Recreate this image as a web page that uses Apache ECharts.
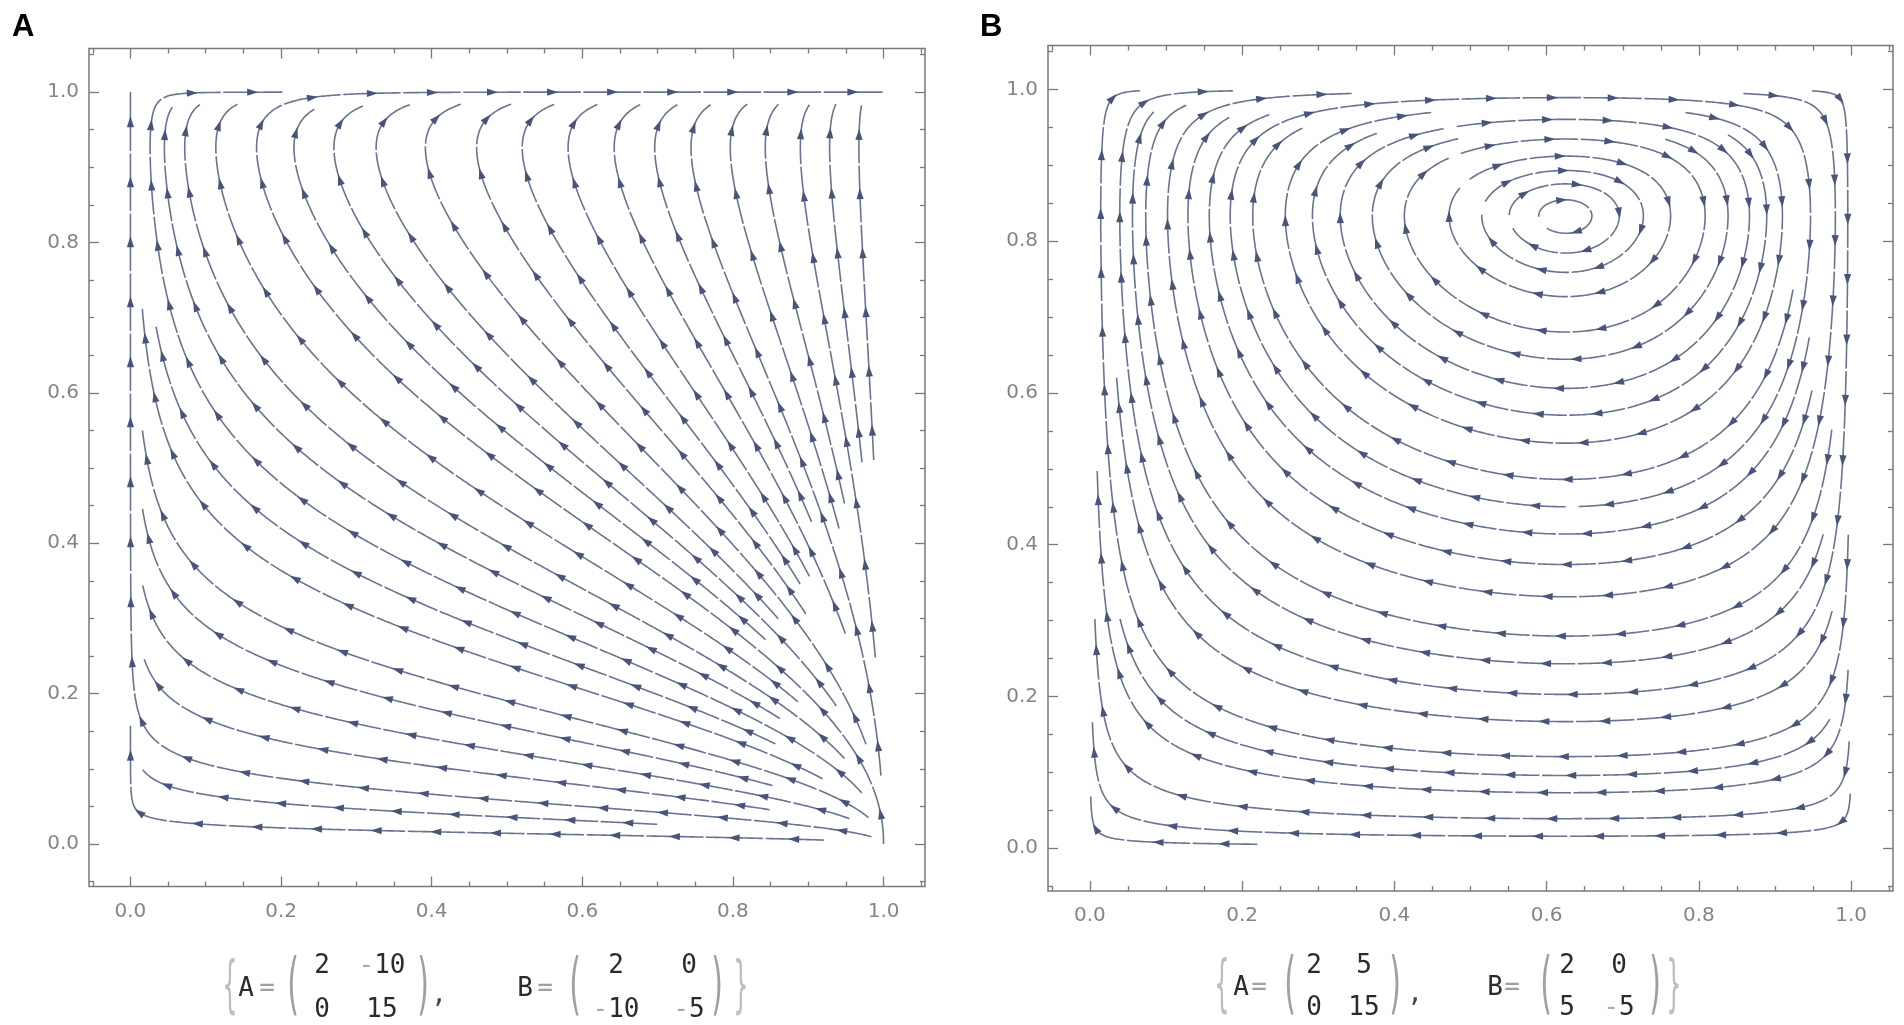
<!DOCTYPE html>
<html><head><meta charset="utf-8">
<script src="https://cdn.jsdelivr.net/npm/echarts@6/dist/echarts.min.js"></script>
<style>html,body{margin:0;padding:0;background:#fff;}#c{width:1904px;height:1025px;}</style>
</head><body><div id="c"></div>
<script>
// ---------------- data ----------------
const panelNames = ['A', 'B'];
const payoffA1 = [[2, -10], [0, 15]];
const payoffB1 = [[2, 0], [-10, -5]];
const payoffA2 = [[2, 5], [0, 15]];
const payoffB2 = [[2, 0], [5, -5]];
const majorTickValues = [0, 0.2, 0.4, 0.6, 0.8, 1.0];
const majorTickLabels = ['0.0', '0.2', '0.4', '0.6', '0.8', '1.0'];
const minorTickValues = [-0.05, 0.05, 0.1, 0.15, 0.25, 0.3, 0.35, 0.45, 0.5, 0.55, 0.65, 0.7, 0.75, 0.85, 0.9, 0.95, 1.05];
const xRange = [-0.055, 1.055];
const yRange = [-0.0565, 1.058];
const seedA = [0.5, 0.5];
const seedB = [0.625, 0.45];

// ---------------- vector field (replicator dynamics of the bimatrix game) -------------
function replicatorField(A, B) {
  return function (x, y) {
    const p1 = A[0][0] * y + A[0][1] * (1 - y);
    const p2 = A[1][0] * y + A[1][1] * (1 - y);
    const q1 = B[0][0] * x + B[0][1] * (1 - x);
    const q2 = B[1][0] * x + B[1][1] * (1 - x);
    return [x * (1 - x) * (p1 - p2), y * (1 - y) * (q1 - q2)];
  };
}

// evenly spaced streamlines (Jobard-Lefer)
function evenStreamlines(field, seed, dsep) {
  const dtest = dsep * 0.45, h = 0.0025, minLen = 0.02, selfGap = dsep * 4;
  const seedMinX = 0.008, seedMaxX = 0.992, seedMinY = 0.011, seedMaxY = 0.99;
  const cs = dsep, N = Math.ceil(1 / cs) + 2;
  const cells = []; for (let i = 0; i < N * N; i++) cells.push([]);
  const discarded = new Set();
  function ci(v) { return Math.max(0, Math.min(N - 1, Math.floor(v / cs))); }
  function addPt(x, y, id, s) { cells[ci(x) * N + ci(y)].push([x, y, id, s]); }
  function tooClose(x, y, d, id, s) {
    const i0 = ci(x), j0 = ci(y), r = Math.ceil(d / cs), d2 = d * d;
    for (let i = i0 - r; i <= i0 + r; i++) {
      if (i < 0 || i >= N) continue;
      for (let j = j0 - r; j <= j0 + r; j++) {
        if (j < 0 || j >= N) continue;
        const arr = cells[i * N + j];
        for (let k = 0; k < arr.length; k++) {
          const p = arr[k];
          if (discarded.has(p[2])) continue;
          const dx = p[0] - x, dy = p[1] - y;
          if (dx * dx + dy * dy < d2) {
            if (p[2] !== id) return true;
            if (Math.abs(p[3] - s) > selfGap) return true;
          }
        }
      }
    }
    return false;
  }
  function dirAt(x, y) {
    const v = field(x, y); const m = Math.hypot(v[0], v[1]);
    if (!(m > 1e-7)) return null; return [v[0] / m, v[1] / m];
  }
  function step(x, y, sg) {
    const k1 = dirAt(x, y); if (!k1) return null;
    const k2 = dirAt(x + sg * h / 2 * k1[0], y + sg * h / 2 * k1[1]); if (!k2) return null;
    const k3 = dirAt(x + sg * h / 2 * k2[0], y + sg * h / 2 * k2[1]); if (!k3) return null;
    const k4 = dirAt(x + sg * h * k3[0], y + sg * h * k3[1]); if (!k4) return null;
    return [x + sg * h * (k1[0] + 2 * k2[0] + 2 * k3[0] + k4[0]) / 6,
            y + sg * h * (k1[1] + 2 * k2[1] + 2 * k3[1] + k4[1]) / 6];
  }
  function trace(x0, y0, id) {
    const fwd = [], bwd = [];
    for (const sg of [1, -1]) {
      let x = x0, y = y0, s = 0, prev = null;
      const arr = sg > 0 ? fwd : bwd;
      for (let k = 0; k < 5000; k++) {
        const n = step(x, y, sg); if (!n) break;
        if (n[0] < 0 || n[0] > 1 || n[1] < 0 || n[1] > 1) break;
        const dx = n[0] - x, dy = n[1] - y;
        if (prev && dx * prev[0] + dy * prev[1] < 0) break;
        s += h * sg;
        if (tooClose(n[0], n[1], dtest, id, s)) break;
        x = n[0]; y = n[1]; prev = [dx, dy];
        arr.push([x, y]); addPt(x, y, id, s);
      }
    }
    return bwd.reverse().concat([[x0, y0]], fwd);
  }
  const lines = []; let nextId = 0;
  function tryLine(x, y) {
    if (x < seedMinX || x > seedMaxX || y < seedMinY || y > seedMaxY) return null;
    if (tooClose(x, y, dsep * 0.96, -1, 0)) return null;
    if (!dirAt(x, y)) return null;
    const id = nextId++;
    addPt(x, y, id, 0);
    const pts = trace(x, y, id);
    if ((pts.length - 1) * h < minLen) { discarded.add(id); return null; }
    lines.push(pts); return pts;
  }
  const queue = [];
  function processQueue() {
    while (queue.length) {
      const L = queue.shift();
      for (let k = 0; k < L.length; k += 3) {
        const p = L[k], q = L[Math.min(k + 1, L.length - 1)], r = L[Math.max(k - 1, 0)];
        let tx = q[0] - r[0], ty = q[1] - r[1]; const m = Math.hypot(tx, ty) || 1; tx /= m; ty /= m;
        for (const sg of [1, -1]) {
          const nl = tryLine(p[0] - sg * ty * dsep, p[1] + sg * tx * dsep);
          if (nl) queue.push(nl);
        }
      }
    }
  }
  const first = tryLine(seed[0], seed[1]); if (first) queue.push(first);
  processQueue();
  for (let gx = seedMinX; gx <= seedMaxX; gx += dsep / 3) {
    for (let gy = seedMinY; gy <= seedMaxY; gy += dsep / 3) {
      const nl = tryLine(gx, gy);
      if (nl) { queue.push(nl); processQueue(); }
    }
  }
  return lines;
}

const streamA = evenStreamlines(replicatorField(payoffA1, payoffB1), seedA, 0.035);
const streamB = evenStreamlines(replicatorField(payoffA2, payoffB2), seedB, 0.036);

// ---------------- drawing ----------------
const lineColor = '#6a7490';
const arrowColor = '#4a5479';
const segLen = 60, gap = 2.5;

function makeRender(lines) {
  return function (params, api) {
    const line = lines[api.value(2)];
    const px = line.map(p => api.coord(p));
    const cum = [0];
    for (let i = 1; i < px.length; i++) cum.push(cum[i - 1] + Math.hypot(px[i][0] - px[i - 1][0], px[i][1] - px[i - 1][1]));
    const total = cum[cum.length - 1];
    if (total < 3) return null;
    function at(s) {
      let lo = 0, hi = cum.length - 1;
      while (hi - lo > 1) { const mid = (lo + hi) >> 1; if (cum[mid] <= s) lo = mid; else hi = mid; }
      const t = cum[hi] > cum[lo] ? (s - cum[lo]) / (cum[hi] - cum[lo]) : 0;
      return { i: lo, p: [px[lo][0] + t * (px[hi][0] - px[lo][0]), px[lo][1] + t * (px[hi][1] - px[lo][1])] };
    }
    const children = [];
    const nSeg = Math.max(1, Math.round(total / segLen)); const sl = total / nSeg;
    for (let s = 0; s < nSeg; s++) {
      const a = s * sl + (s > 0 ? gap / 2 : 0), b = (s + 1) * sl - (s < nSeg - 1 ? gap / 2 : 0);
      const A = at(a), B = at(b);
      const pts = [A.p];
      for (let i = A.i + 1; i <= B.i; i++) pts.push(px[i]);
      pts.push(B.p);
      children.push({ type: 'polyline', silent: true, shape: { points: pts }, style: { stroke: lineColor, lineWidth: 1.6, fill: null } });
      if (sl > 16) {
        const m = (s + 0.5) * sl;
        const P = at(m).p, Q = at(Math.min(total, m + 3)).p, R = at(Math.max(0, m - 3)).p;
        let dx = Q[0] - R[0], dy = Q[1] - R[1]; const len = Math.hypot(dx, dy) || 1; dx /= len; dy /= len;
        const tip = [P[0] + dx * 6, P[1] + dy * 6];
        const bc = [P[0] - dx * 5, P[1] - dy * 5];
        children.push({ type: 'polygon', silent: true, shape: { points: [tip, [bc[0] - dy * 3.6, bc[1] + dx * 3.6], [bc[0] + dy * 3.6, bc[1] - dx * 3.6]] }, style: { fill: arrowColor } });
      }
    }
    return { type: 'group', children };
  };
}

function tickLabel(v) {
  const i = majorTickValues.findIndex(t => Math.abs(t - v) < 1e-9);
  return i >= 0 ? majorTickLabels[i] : '';
}

function axisSet(gridIndex, dim, range) {
  const base = { type: 'value', gridIndex, min: range[0], max: range[1], scale: false,
    splitLine: { show: false }, axisLine: { show: false, onZero: false } };
  const posA = dim === 'x' ? 'bottom' : 'left', posB = dim === 'x' ? 'top' : 'right';
  const tick = (len, vals) => ({ show: true, inside: true, length: len, customValues: vals, lineStyle: { color: '#7a7a7a', width: 1.3 } });
  return [
    Object.assign({}, base, { position: posA, axisTick: tick(10, majorTickValues),
      axisLabel: { show: true, customValues: majorTickValues, formatter: tickLabel, margin: dim === 'x' ? 15 : 10,
        color: '#858585', fontFamily: 'DejaVu Sans', fontSize: 20 } }),
    Object.assign({}, base, { position: posA, axisTick: tick(5, minorTickValues), axisLabel: { show: false } }),
    Object.assign({}, base, { position: posB, axisTick: tick(10, majorTickValues), axisLabel: { show: false } }),
    Object.assign({}, base, { position: posB, axisTick: tick(5, minorTickValues), axisLabel: { show: false } })
  ];
}

function matrixLabel(A, B, L) {
  const els = [];
  const font = 'DejaVu Sans Mono';
  const T = (x, y, text, extra) => els.push({ type: 'text', x, y, silent: true, ...(extra && extra.el || {}),
    style: Object.assign({ text, fontFamily: font, fontSize: 26, fill: '#2b2b2b', align: 'center', verticalAlign: 'middle' }, extra && extra.style || {}) });
  const rich = { m: { fill: '#a8a8a8', fontFamily: font, fontSize: 26 }, d: { fill: '#2b2b2b', fontFamily: font, fontSize: 26 } };
  const entry = v => (v < 0 ? '{m|-}{d|' + (-v) + '}' : '{d|' + v + '}');
  const paren = (x, ch) => T(x, L.mid, ch, { el: { scaleY: 2.25 }, style: { fontFamily: 'DejaVu Sans', fontSize: 30, fill: '#a0a0a0' } });
  T(L.brace1, L.mid, '{', { el: { scaleY: 2.1, scaleX: 0.8 }, style: { fontFamily: 'DejaVu Sans', fontSize: 30, fill: '#bdbdbd' } });
  T(L.A, L.mid, 'A');
  T(L.eq1, L.mid, '=', { style: { fill: '#a0a0a0' } });
  paren(L.p1, '(');
  T(L.c1, L.r1, entry(A[0][0]), { style: { rich } });
  T(L.c2, L.r1, entry(A[0][1]), { style: { rich } });
  T(L.c1, L.r2, entry(A[1][0]), { style: { rich } });
  T(L.c2, L.r2, entry(A[1][1]), { style: { rich } });
  paren(L.p2, ')');
  T(L.comma, L.mid + 6, ',', { style: { fill: '#444' } });
  T(L.B, L.mid, 'B');
  T(L.eq2, L.mid, '=', { style: { fill: '#a0a0a0' } });
  paren(L.p3, '(');
  T(L.c3, L.r1, entry(B[0][0]), { style: { rich } });
  T(L.c4, L.r1, entry(B[0][1]), { style: { rich } });
  T(L.c3, L.r2, entry(B[1][0]), { style: { rich } });
  T(L.c4, L.r2, entry(B[1][1]), { style: { rich } });
  paren(L.p4, ')');
  T(L.brace2, L.mid, '}', { el: { scaleY: 2.1, scaleX: 0.8 }, style: { fontFamily: 'DejaVu Sans', fontSize: 30, fill: '#bdbdbd' } });
  return els;
}

const layoutA = { brace1: 230, A: 246, eq1: 267, p1: 293, c1: 322, c2: 382, p2: 423, comma: 439, B: 525, eq2: 545, p3: 575, c3: 616, c4: 689, p4: 717, brace2: 741, r1: 966, r2: 1010, mid: 989 };
const layoutB = { brace1: 1222, A: 1241, eq1: 1259, p1: 1290, c1: 1314, c2: 1364, p2: 1395, comma: 1415, B: 1495, eq2: 1512, p3: 1546, c3: 1567, c4: 1619, p4: 1655, brace2: 1674, r1: 966, r2: 1008, mid: 988 };

const chart = echarts.init(document.getElementById('c'), null, { renderer: 'canvas', width: 1904, height: 1025 });
chart.setOption({
  animation: false,
  backgroundColor: '#ffffff',
  grid: [
    { left: 89, top: 48.5, width: 836, height: 838, show: true, borderColor: '#7a7a7a', borderWidth: 1.5, containLabel: false },
    { left: 1048, top: 45.5, width: 845, height: 845.5, show: true, borderColor: '#7a7a7a', borderWidth: 1.5, containLabel: false }
  ],
  xAxis: axisSet(0, 'x', xRange).concat(axisSet(1, 'x', xRange)),
  yAxis: axisSet(0, 'y', yRange).concat(axisSet(1, 'y', yRange)),
  series: [
    { type: 'custom', name: 'A', xAxisIndex: 0, yAxisIndex: 0, silent: true, renderItem: makeRender(streamA),
      encode: { x: 0, y: 1 }, data: streamA.map((l, i) => [l[0][0], l[0][1], i]) },
    { type: 'custom', name: 'B', xAxisIndex: 4, yAxisIndex: 4, silent: true, renderItem: makeRender(streamB),
      encode: { x: 0, y: 1 }, data: streamB.map((l, i) => [l[0][0], l[0][1], i]) }
  ],
  graphic: [
    { type: 'text', x: 12, y: 27, silent: true, style: { text: panelNames[0], fontFamily: 'Liberation Sans', fontWeight: 'bold', fontSize: 31, fill: '#000', align: 'left', verticalAlign: 'middle' } },
    { type: 'text', x: 980, y: 27, silent: true, style: { text: panelNames[1], fontFamily: 'Liberation Sans', fontWeight: 'bold', fontSize: 31, fill: '#000', align: 'left', verticalAlign: 'middle' } }
  ].concat(matrixLabel(payoffA1, payoffB1, layoutA), matrixLabel(payoffA2, payoffB2, layoutB))
});
</script></body></html>
